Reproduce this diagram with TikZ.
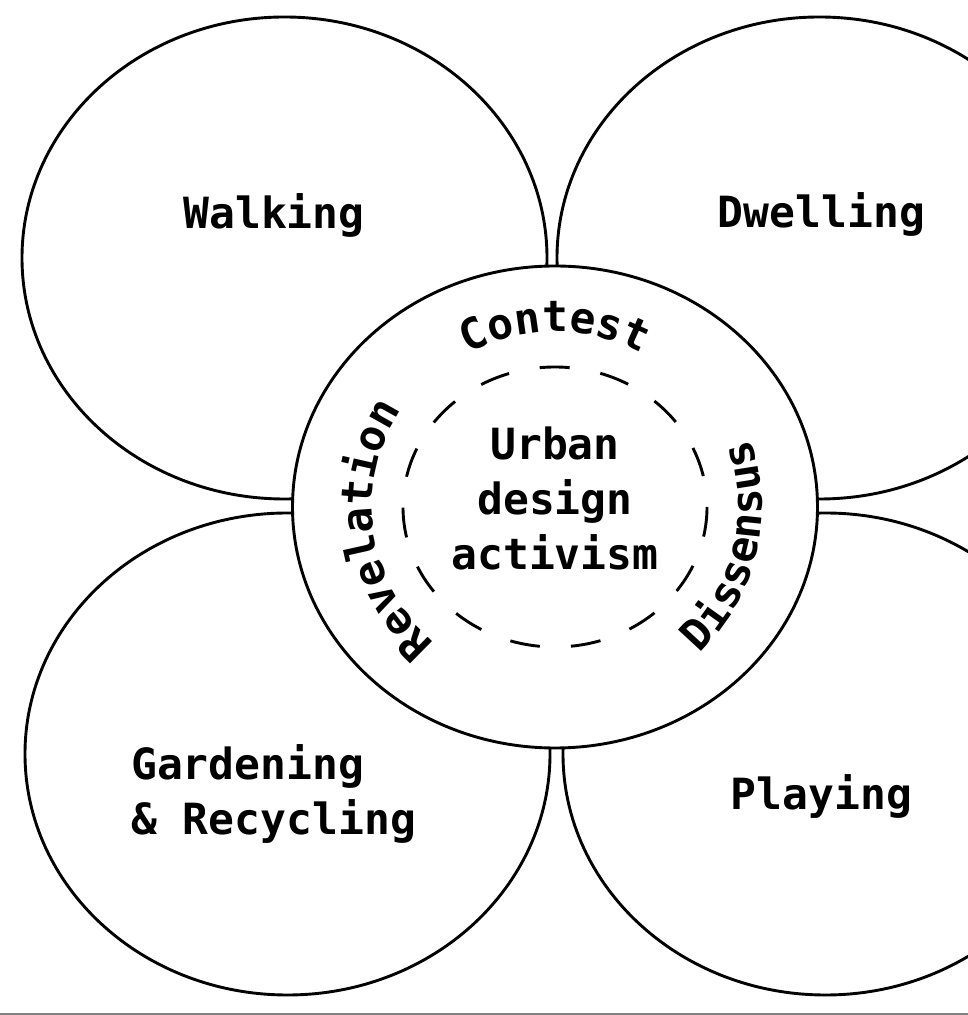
\documentclass[tikz,border=0pt]{standalone}
\usepackage{fontspec}
\newfontfamily\petalfont{DejaVu Sans Mono}
\newcommand\labelfont{\petalfont\bfseries\fontsize{43}{55}\selectfont}
\usetikzlibrary{positioning,shapes.geometric,decorations.text}
\tikzstyle{line} = [line width=2.9pt]
\tikzstyle{petal node}=[line, draw, ellipse, inner sep=0pt, minimum width=525pt, minimum height=482pt]
\tikzstyle{core node}=[petal node, fill=white]
\tikzstyle{ring node}=[line, draw, ellipse, inner sep=0pt, minimum width=304pt, minimum height=280pt, dash pattern=on 30pt off 31.2pt, dash phase=30pt]
\tikzstyle{label text}=[font=\labelfont, inner sep=0pt, anchor=base]
\tikzstyle{arc text}=[decorate, decoration={text along path, text align=center}]

\begin{document}
\begin{tikzpicture}[x=1pt, y=1pt]
        \clip (0,0) rectangle (968,1015);
        \coordinate (core-pos) at (555,508);
        \draw (core-pos) ++(-270.5,249) node[petal node] (walking) {};
        \draw (core-pos) ++(264.5,249) node[petal node] (dwelling) {};
        \draw (core-pos) ++(-267.5,-247) node[petal node] (gardening) {};
        \draw (core-pos) ++(270.5,-247) node[petal node] (playing) {};
        \node[core node] (core) at (core-pos) {};
        \node[ring node] (ring) at (core) {};

        \node[label text] (walking-text) at (274,786) {Walking};
        \node[label text] (dwelling-text) at (821.5,787) {Dwelling};
        \node[label text] (playing-text) at (821.5,205) {Playing};
        % multi-line nodes sit on their last baseline
        \node[label text, align=left, anchor=base west] (gardening-text) at (131,180) {Gardening\\\& Recycling};
        \node[label text, align=center] (activism) at (555,445) {Urban\\design\\activism};

        % words round the ring
        \path[arc text, decoration={text={|\labelfont|Contest}}] (core) ++(160:180pt and 175pt) arc[start angle=160, end angle=20, x radius=180pt, y radius=175pt];
        \path[arc text, decoration={text={|\labelfont|Revelation}}] (core) ++(248:183pt and 180pt) arc[start angle=248, end angle=128, x radius=183pt, y radius=180pt];
        \path[arc text, decoration={text={|\labelfont|Dissensus}}] (core) ++(-73:207pt and 203pt) arc[start angle=-73, end angle=47, x radius=207pt, y radius=203pt];

        \coordinate (rule-left) at (0,1);
        \coordinate (rule-right) at (968,1);
        \draw[line width=2pt, gray] (rule-left) -- (rule-right);
\end{tikzpicture}
\end{document}
